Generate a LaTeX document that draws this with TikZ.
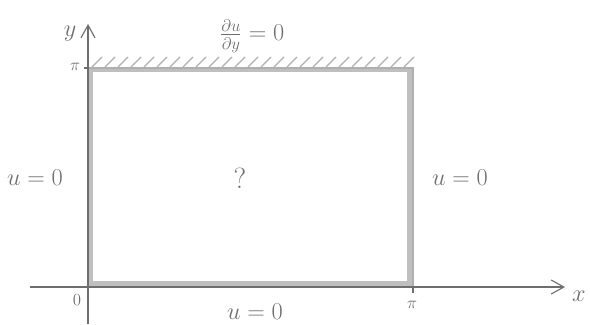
\documentclass[tikz,border=0pt]{standalone}
\usepackage{amsmath}
\usepackage{tikz}
\usetikzlibrary{arrows.meta, positioning}
\definecolor{pencil}{RGB}{110,110,110}
\definecolor{smudge}{RGB}{175,175,175}

\begin{document}
\begin{tikzpicture}[x=2.5cm, y=2.5cm]
  \useasboundingbox (0,0) rectangle (5.9,3.24);
  \tikzset{lbl/.style={text=pencil, font=\LARGE, inner sep=1pt},
    axis/.style={pencil, thick, -{Straight Barb[length=9pt, width=10pt]}}}
  % domain with shaded border
  \fill[smudge!80] (0.88,0.37) rectangle (4.13,2.56);
  \fill[white] (0.93,0.43) rectangle (4.07,2.52);
  \draw[smudge, thick] (0.88,0.37) rectangle (4.13,2.56);
  \foreach \i in {0,...,24}
    \draw[smudge, thick] (0.92+0.13*\i,2.57) -- ++(0.1,0.1);
  % axes
  \coordinate (xs) at (0.30,0.37);
  \coordinate (xe) at (5.65,0.37);
  \coordinate (ys) at (0.88,0.00);
  \coordinate (ye) at (0.88,3.00);
  \draw[axis] (xs) -- (xe);
  \draw[axis] (ys) -- (ye);
  \draw[pencil, thick] (0.84,2.56) -- (0.88,2.56);
  \draw[pencil, thick] (4.13,0.37) -- (4.13,0.31);
  \node[lbl] (lab-x) at (5.79,0.28) {$x$};
  \node[lbl] (lab-y) at (0.70,2.90) {$y$};
  \node[lbl, font=\large] (pi-y) at (0.75,2.57) {$\pi$};
  \node[lbl, font=\large] (pi-x) at (4.12,0.19) {$\pi$};
  \node[lbl, font=\large] (zero) at (0.77,0.24) {$0$};
  % boundary conditions
  \node[lbl] (top) at (2.52,2.88) {$\frac{\partial u}{\partial y}=0$};
  \node[lbl] (left) at (0.35,1.46) {$u=0$};
  \node[lbl] (right) at (4.60,1.46) {$u=0$};
  \node[lbl] (bottom) at (2.55,0.12) {$u=0$};
  \node[lbl, font=\huge] (mid) at (2.40,1.46) {?};
\end{tikzpicture}
\end{document}
